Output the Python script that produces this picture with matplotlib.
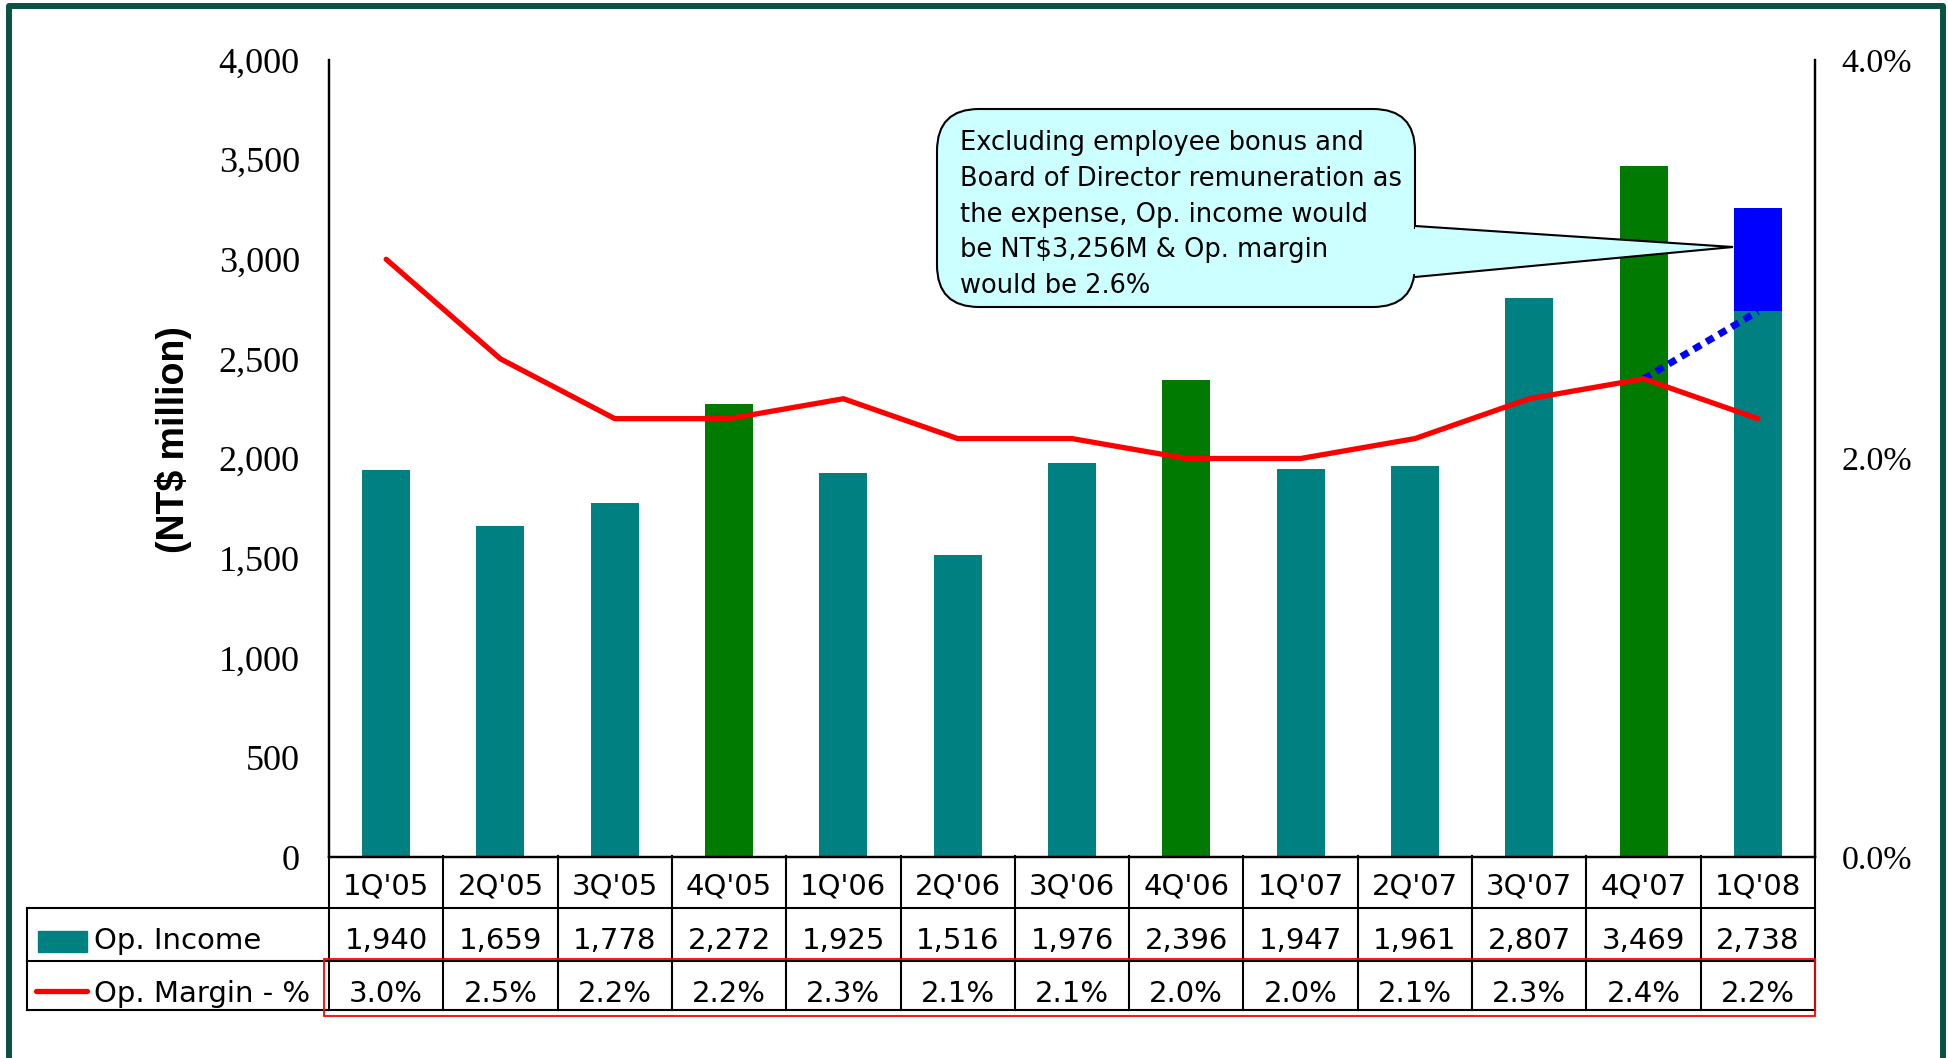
import numpy as np
import matplotlib.pyplot as plt
from matplotlib.patches import Rectangle, FancyBboxPatch, Polygon
from matplotlib.lines import Line2D
from matplotlib.transforms import Affine2D
from matplotlib.ticker import FuncFormatter

# data
quarters = ["1Q'05", "2Q'05", "3Q'05", "4Q'05", "1Q'06", "2Q'06", "3Q'06",
            "4Q'06", "1Q'07", "2Q'07", "3Q'07", "4Q'07", "1Q'08"]
op_income = [1940, 1659, 1778, 2272, 1925, 1516, 1976, 2396, 1947, 1961, 2807, 3469, 2738]
op_margin = [3.0, 2.5, 2.2, 2.2, 2.3, 2.1, 2.1, 2.0, 2.0, 2.1, 2.3, 2.4, 2.2]
adj_income = 3256   # 1Q'08 excluding bonus / remuneration
adj_margin = 2.6
left_ticks = [0, 500, 1000, 1500, 2000, 2500, 3000, 3500, 4000]
right_ticks = [0.0, 2.0, 4.0]
callout_lines = ["Excluding employee bonus and",
                 "Board of Director remuneration as",
                 "the expense, Op. income would",
                 f"be NT${adj_income:,}M & Op. margin",
                 f"would be {adj_margin}%"]

TEAL = "#008080"
GREEN = "#007A00"
BLUE = "#0000FF"
RED = "#FF0000"
CYAN = "#CCFFFF"
FRAME = "#0A5243"
SANS = "DejaVu Sans"
SERIF = "Liberation Serif"

W, H = 1948, 1058
fig = plt.figure(figsize=(W / 100, H / 100), dpi=100)
# pixel coordinates, origin top-left
PX = Affine2D().scale(1 / W, -1 / H).translate(0, 1) + fig.transFigure
# pixel coordinates, origin bottom-left (for patches that need positive heights)
PXB = Affine2D().scale(1 / W, 1 / H) + fig.transFigure

# plot area in pixels
L, R, T, B = 329, 1815, 60, 857
ax = fig.add_axes([L / W, 1 - B / H, (R - L) / W, (B - T) / H])
ax2 = ax.twinx()

x = np.arange(len(quarters))
colors = [GREEN if q.startswith("4Q") else TEAL for q in quarters]
ax.bar(x, op_income, width=0.42, color=colors, zorder=2)

ax.set_xlim(-0.5, len(quarters) - 0.5)
ax.set_ylim(0, 4000)
ax2.set_ylim(0, 4.0)
ax.set_xticks([])
ax.set_yticks(left_ticks)
ax.yaxis.set_major_formatter(FuncFormatter(lambda v, p: f"{int(v):,}"))
ax.tick_params(axis="y", length=0, pad=21, labelsize=26)
for lab in ax.get_yticklabels():
    lab.set_fontfamily(SERIF)
ax2.set_yticks(right_ticks)
ax2.yaxis.set_major_formatter(FuncFormatter(lambda v, p: f"{v:.1f}%"))
ax2.tick_params(axis="y", length=0, pad=19, labelsize=24.5)
for lab in ax2.get_yticklabels():
    lab.set_fontfamily(SERIF)

for a in (ax, ax2):
    a.spines["top"].set_visible(False)
    for s in ("left", "right", "bottom"):
        a.spines[s].set_linewidth(1.6)
        a.spines[s].set_color("black")
    a.patch.set_visible(False)

ax.set_ylabel("(NT$ million)", fontsize=27, fontweight="bold",
              family="Liberation Sans", labelpad=0)
ax.yaxis.set_label_coords((192 - L) / (R - L), (B - 440) / (B - T))

# margin line and the dotted link to the adjusted bar
ax2.plot(x, op_margin, color=RED, lw=3.8, solid_capstyle="round", zorder=4)
scale = 4.0 / 4000
ax2.plot([x[-2], x[-1]], [op_margin[-2], op_income[-1] * scale], color=BLUE,
         lw=5, linestyle=(0, (1.2, 0.9)), dash_capstyle="butt", zorder=3)
ax2.bar(x[-1], (adj_income - op_income[-1]) * scale, bottom=op_income[-1] * scale,
        width=0.42, color=BLUE, zorder=5)

# data table under the chart
rows_px = [856, 908, 961, 1010]
left_px = 27
kw = dict(color="black", lw=1.5, transform=PX, clip_on=False)
for py in rows_px[1:]:
    fig.add_artist(Line2D([left_px, R], [py, py], **kw))
for k in range(len(quarters) + 1):
    cx = L + (R - L) * k / len(quarters)
    fig.add_artist(Line2D([cx, cx], [rows_px[0], rows_px[-1]], **kw))
fig.add_artist(Line2D([left_px, left_px], [rows_px[1], rows_px[-1]], **kw))

baselines = [894, 949, 1002]
tkw = dict(ha="center", va="baseline", fontsize=21, family=SANS, transform=PX)
for i, q in enumerate(quarters):
    cx = L + (R - L) * (i + 0.5) / len(quarters)
    fig.text(cx, baselines[0], q, **tkw)
    fig.text(cx, baselines[1], f"{op_income[i]:,}", **tkw)
    fig.text(cx, baselines[2], f"{op_margin[i]:.1f}%", **tkw)

# legend cells
fig.add_artist(Rectangle((38, H - 952), 49, 21, transform=PXB, color=TEAL))
fig.text(94, baselines[1], "Op. Income", ha="left", va="baseline",
         fontsize=21, family=SANS, transform=PX)
fig.add_artist(Line2D([36, 87], [991, 991], color=RED, lw=3.8,
                      solid_capstyle="round", transform=PX))
fig.text(94, baselines[2], "Op. Margin - %", ha="left", va="baseline",
         fontsize=21, family=SANS, transform=PX)

# red box around margin row
fig.add_artist(Rectangle((324, H - 1016), R - 324, 1016 - 959, transform=PXB,
                         fill=False, edgecolor=RED, lw=1.3, zorder=3))

# callout
bx0, by0, bx1, by1 = 937, 109, 1415, 307
fig.add_artist(FancyBboxPatch((bx0, H - by1), bx1 - bx0, by1 - by0,
                              boxstyle="round,pad=0,rounding_size=42",
                              transform=PXB, facecolor=CYAN,
                              edgecolor="black", lw=1.5, zorder=6))
tip = (1733, 247)
fig.add_artist(Polygon([(bx1, 226), tip, (bx1, 277)], closed=False, transform=PX,
                       facecolor=CYAN, edgecolor="black", lw=1.5, zorder=7))
fig.add_artist(Rectangle((bx1 - 4, H - 274), 8, 45, transform=PXB,
                         facecolor=CYAN, edgecolor="none", zorder=8))
for j, line in enumerate(callout_lines):
    fig.text(960, 150 + 35.75 * j, line, ha="left", va="baseline",
             fontsize=18.5, family=SANS, zorder=9, transform=PX)

# outer frame
fig.add_artist(Rectangle((9, -20), 1943 - 9, H - 5.5 + 20, transform=PXB,
                         fill=False, edgecolor=FRAME, lw=4.3, joinstyle="round"))

fig.savefig("out.png", dpi=100)
